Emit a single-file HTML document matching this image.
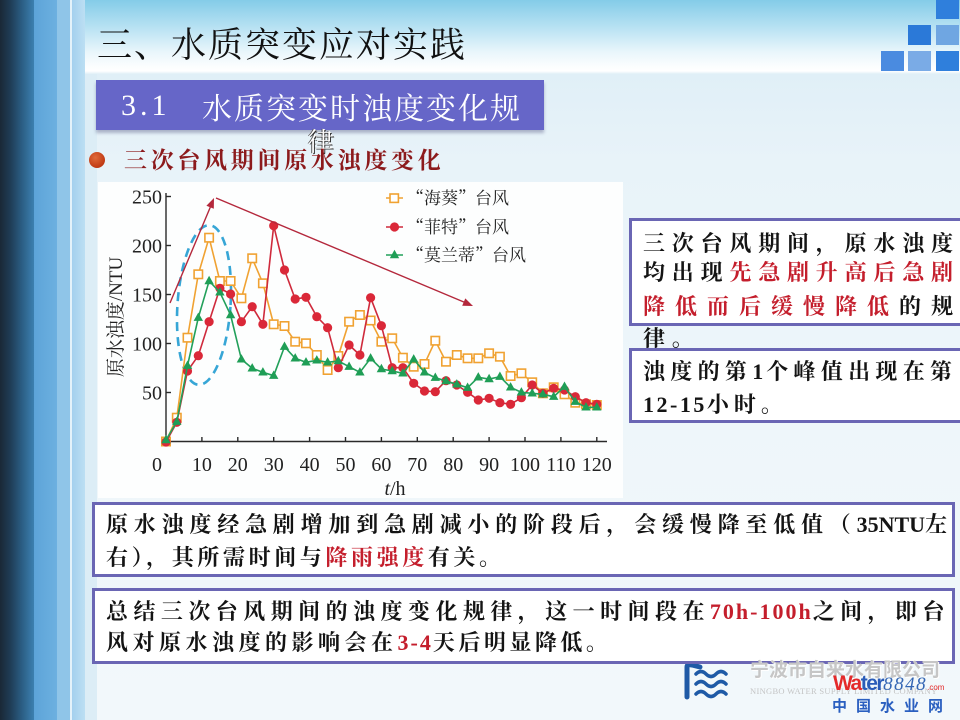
<!DOCTYPE html>
<html><head><meta charset="utf-8"><style>
html,body{margin:0;padding:0}
body{width:960px;height:720px;position:relative;overflow:hidden;background:#eef6fa;}
.a{position:absolute}
.t{position:absolute;white-space:nowrap;font-family:"Liberation Serif","Noto Serif CJK SC",serif;font-weight:bold;font-size:22px;line-height:22px;color:#141414;}
.r{color:#c41e2c}
.box{position:absolute;border:3px solid #6a66b4;background:#fff;box-sizing:border-box}
.sq{position:absolute;width:23px;height:20px}
</style></head><body>
<!-- backgrounds -->
<div class="a" style="left:0;top:0;width:960px;height:720px;background:linear-gradient(to bottom,#84cce8 0px,#b9e2f3 28px,#e9f6fb 52px,#fbfdfe 66px,#ffffff 71px,#e0eff7 74px,#e8f3f9 160px,#eef6fa 400px,#f2f8fb 720px)"></div>
<!-- left strip -->
<div class="a" style="left:0;top:0;width:34px;height:720px;background:linear-gradient(to right,#1a2836 0%,#1f3c55 30%,#2b5e84 65%,#3c80b0 100%)"></div>
<div class="a" style="left:34px;top:0;width:23px;height:720px;background:linear-gradient(to right,#5da4d8,#6cb0e0)"></div>
<div class="a" style="left:57px;top:0;width:13px;height:720px;background:#8fc5e8"></div>
<div class="a" style="left:70px;top:0;width:2px;height:720px;background:#e4f2fa"></div>
<div class="a" style="left:72px;top:0;width:13px;height:720px;background:linear-gradient(to right,#a4d0ee,#bcdff3)"></div>
<div class="a" style="left:85px;top:74px;width:12px;height:646px;background:#dcedf6"></div>
<!-- top right squares -->
<div class="sq" style="left:936px;top:0;height:19px;background:#2f7fdc"></div>
<div class="sq" style="left:908px;top:25px;background:#2b79d8"></div>
<div class="sq" style="left:936px;top:25px;background:#6fa6e2"></div>
<div class="sq" style="left:881px;top:51px;background:#4a8be0"></div>
<div class="sq" style="left:908px;top:51px;background:#7aabe6"></div>
<div class="sq" style="left:936px;top:51px;background:#2f7fdc"></div>

<!-- title -->
<div class="a" style="left:97px;top:25px;font-family:'Noto Serif CJK SC','Liberation Serif',serif;font-size:35px;line-height:36px;letter-spacing:2px;color:#111;white-space:nowrap">三、水质突变应对实践</div>

<!-- section box -->
<div class="a" style="left:96px;top:80px;width:448px;height:50px;background:#6666c8;box-shadow:0 3px 3px rgba(60,60,110,0.35)"></div>
<div class="a" style="left:121px;top:91px;font-family:'Liberation Serif',serif;font-size:30px;line-height:30px;letter-spacing:4px;color:#fff;white-space:nowrap">3.1</div>
<div class="a" style="left:202px;top:91px;font-family:'Noto Serif CJK SC',serif;font-size:30px;line-height:30px;letter-spacing:2px;color:#fff;white-space:nowrap">水质突变时浊度变化规</div>
<div class="a" style="left:308px;top:128px;font-family:'Noto Serif CJK SC',serif;font-size:26px;line-height:26px;color:#fff;text-shadow:1px 1px 0 #333,-1px 0 0 #555;white-space:nowrap">律</div>

<!-- bullet -->
<div class="a" style="left:89px;top:152px;width:16px;height:16px;border-radius:50%;background:radial-gradient(circle at 40% 35%,#e06a3a,#c03a14 70%)"></div>
<div class="t" style="left:124px;top:149px;font-size:23px;line-height:23px;letter-spacing:3.7px;color:#8c1a1c">三次台风期间原水浊度变化</div>

<!-- chart -->
<svg class="a" style="left:0;top:0" width="960" height="720" viewBox="0 0 960 720" xmlns="http://www.w3.org/2000/svg">
<defs>
<marker id="mSq" markerWidth="12" markerHeight="12" refX="6" refY="6" markerUnits="userSpaceOnUse" overflow="visible"><rect x="1.8" y="1.8" width="8.4" height="8.4" fill="#fff" stroke="#f0a232" stroke-width="1.6"/></marker>
<marker id="mCi" markerWidth="12" markerHeight="12" refX="6" refY="6" markerUnits="userSpaceOnUse" overflow="visible"><circle cx="6" cy="6" r="4.6" fill="#da2838"/></marker>
<marker id="mTr" markerWidth="12" markerHeight="12" refX="6" refY="6" markerUnits="userSpaceOnUse" overflow="visible"><polygon points="6,0.8 1.3,9.2 10.7,9.2" fill="#1f9e56"/></marker>
</defs>
<rect x="98" y="182" width="525" height="316" fill="#fdfefe"/>
<!-- axes -->
<g stroke="#2a2a2a" stroke-width="1.4" fill="none">
<line x1="166" y1="193" x2="166" y2="442"/>
<line x1="165.3" y1="441.5" x2="607" y2="441.5"/>
<line x1="166" y1="196.5" x2="171" y2="196.5"/>
<line x1="166" y1="245.5" x2="171" y2="245.5"/>
<line x1="166" y1="294.5" x2="171" y2="294.5"/>
<line x1="166" y1="343.5" x2="171" y2="343.5"/>
<line x1="166" y1="392.5" x2="171" y2="392.5"/>
<line x1="201.9" y1="441.5" x2="201.9" y2="437"/>
<line x1="237.8" y1="441.5" x2="237.8" y2="437"/>
<line x1="273.7" y1="441.5" x2="273.7" y2="437"/>
<line x1="309.6" y1="441.5" x2="309.6" y2="437"/>
<line x1="345.5" y1="441.5" x2="345.5" y2="437"/>
<line x1="381.4" y1="441.5" x2="381.4" y2="437"/>
<line x1="417.3" y1="441.5" x2="417.3" y2="437"/>
<line x1="453.2" y1="441.5" x2="453.2" y2="437"/>
<line x1="489.1" y1="441.5" x2="489.1" y2="437"/>
<line x1="525" y1="441.5" x2="525" y2="437"/>
<line x1="560.9" y1="441.5" x2="560.9" y2="437"/>
<line x1="596.8" y1="441.5" x2="596.8" y2="437"/>
</g>
<g font-family="Liberation Serif, serif" font-size="20" fill="#222" text-anchor="end">
<text x="162" y="203.5">250</text>
<text x="162" y="252.5">200</text>
<text x="162" y="301.5">150</text>
<text x="162" y="350.5">100</text>
<text x="162" y="399.5">50</text>
</g>
<g font-family="Liberation Serif, serif" font-size="20" fill="#222" text-anchor="middle">
<text x="157" y="471">0</text>
<text x="201.9" y="471">10</text>
<text x="237.8" y="471">20</text>
<text x="273.7" y="471">30</text>
<text x="309.6" y="471">40</text>
<text x="345.5" y="471">50</text>
<text x="381.4" y="471">60</text>
<text x="417.3" y="471">70</text>
<text x="453.2" y="471">80</text>
<text x="489.1" y="471">90</text>
<text x="525" y="471">100</text>
<text x="560.9" y="471">110</text>
<text x="596.8" y="471">120</text>
<text x="395" y="495"><tspan font-style="italic">t</tspan>/h</text>
</g>
<text transform="translate(122,317) rotate(-90)" text-anchor="middle" font-family="Liberation Serif, Noto Serif CJK SC, serif" font-size="19" fill="#222">原水浊度/NTU</text>

<!-- ellipse -->
<ellipse cx="204" cy="305" rx="26.5" ry="80" transform="rotate(4 204 305)" fill="none" stroke="#37a6d6" stroke-width="2.6" stroke-dasharray="9 6"/>

<!-- series lines -->
<polyline fill="none" stroke="#f0a232" stroke-width="1.6" marker-start="url(#mSq)" marker-mid="url(#mSq)" marker-end="url(#mSq)" points="166,441.5 176.8,417.7 187.5,337.7 198.3,274.3 209.1,237.7 219.9,281 230.6,281 241.4,298.3 252.2,258.3 262.9,283.3 273.7,324.3 284.5,326 295.2,341.7 306,343.3 316.8,355 327.6,370 338.3,356 349.1,321.7 359.9,315 370.6,320.5 381.4,341.7 392.2,338.3 402.9,357.7 413.7,366.7 424.5,364 435.3,340.7 446,361.7 456.8,355 467.6,358.3 478.3,358.3 489.1,353.3 499.9,356.7 510.6,376 521.4,373.3 532.2,382.3 542.9,393.3 553.7,387.3 564.5,394.3 575.3,402.7 586,404.3 596.8,405"/>
<polyline fill="none" stroke="#cf2a3c" stroke-width="1.6" marker-start="url(#mCi)" marker-mid="url(#mCi)" marker-end="url(#mCi)" points="166,442 176.8,422.3 187.5,371 198.3,355.7 209.1,321.7 219.9,288.3 230.6,294 241.4,321.7 252.2,306.7 262.9,324.3 273.7,225.7 284.5,270 295.2,299 306,297.3 316.8,316.7 327.6,327.7 338.3,367.7 349.1,345 359.9,355 370.6,297.7 381.4,325.7 392.2,367.7 402.9,367.7 413.7,383.3 424.5,391 435.3,391.7 446,380.7 456.8,385 467.6,392.3 478.3,400 489.1,398.3 499.9,402.7 510.6,404.3 521.4,397.7 532.2,385 542.9,393.3 553.7,388.3 564.5,390 575.3,396.7 586,402.7 596.8,404.3"/>
<polyline fill="none" stroke="#22a05a" stroke-width="1.6" marker-start="url(#mTr)" marker-mid="url(#mTr)" marker-end="url(#mTr)" points="166,440 176.8,421.7 187.5,365.7 198.3,317.7 209.1,281 219.9,292.3 230.6,315 241.4,359.3 252.2,368.3 262.9,372.3 273.7,375.7 284.5,346.7 295.2,358.3 306,362.3 316.8,360.3 327.6,362.3 338.3,361 349.1,366.7 359.9,372.3 370.6,358.3 381.4,369 392.2,371 402.9,373.3 413.7,359.3 424.5,372.3 435.3,377.7 446,381 456.8,384.3 467.6,387.7 478.3,377.3 489.1,379 499.9,376.7 510.6,387.3 521.4,392.3 532.2,393.3 542.9,394.3 553.7,396.7 564.5,386.7 575.3,401.7 586,407.3 596.8,407.3"/>

<!-- arrows -->
<g stroke="#b4283c" stroke-width="1.4" fill="#b4283c">
<line x1="170" y1="303" x2="211" y2="205.5"/>
<polygon stroke="none" points="214,198 213.8,208.8 206.4,205.7"/>
<line x1="216" y1="198" x2="465" y2="302.5"/>
<polygon stroke="none" points="473,306 462.2,305.8 465.3,298.4"/>
</g>

<!-- legend -->
<g>
<line x1="386" y1="198" x2="403" y2="198" stroke="#f0a232" stroke-width="1.6"/>
<rect x="390" y="194" width="8.4" height="8.4" fill="#fff" stroke="#f0a232" stroke-width="1.6"/>
<line x1="386" y1="227" x2="403" y2="227" stroke="#cf2a3c" stroke-width="1.6"/>
<circle cx="394.5" cy="227" r="4.6" fill="#da2838"/>
<line x1="386" y1="255" x2="403" y2="255" stroke="#22a05a" stroke-width="1.6"/>
<polygon points="394.5,249.8 389.8,258.2 399.2,258.2" fill="#1f9e56"/>
<g font-family="Noto Serif CJK SC, serif" font-size="17" fill="#222">
<text x="407" y="204">“海葵”台风</text>
<text x="407" y="233">“菲特”台风</text>
<text x="407" y="261">“莫兰蒂”台风</text>
</g>
</g>

<!-- logo -->
<g fill="none" stroke="#1f5aa6" stroke-linecap="round">
<path d="M687 697 L687 667 Q687 664 692 665 L700 667" stroke-width="5"/>
<path d="M696 674 q5 -5 10 0 t10 0 t10 0" stroke-width="3.5"/>
<path d="M696 684 q5 -5 10 0 t10 0 t10 0" stroke-width="3.5"/>
<path d="M696 694 q5 -5 10 0 t10 0 t10 0" stroke-width="3.5"/>
</g>
</svg>

<!-- right boxes -->
<div class="box" style="left:629px;top:218px;width:340px;height:108px"></div>
<div class="t" style="left:643px;top:233px;letter-spacing:6.8px">三次台风期间，原水浊度</div>
<div class="t" style="left:643px;top:262px;letter-spacing:6.8px">均出现<span class="r">先急剧升高后急剧</span></div>
<div class="t" style="left:643px;top:296px;letter-spacing:10px"><span class="r">降低而后缓慢降低</span>的规</div>
<div class="t" style="left:643px;top:328px;letter-spacing:6.8px">律。</div>

<div class="box" style="left:629px;top:348px;width:340px;height:75px"></div>
<div class="t" style="left:643px;top:361px;letter-spacing:5.3px">浊度的第<span style="letter-spacing:3px">1</span>个峰值出现在第</div>
<div class="t" style="left:643px;top:394px;letter-spacing:5px"><span style="letter-spacing:2.5px">12-15</span>小时。</div>

<!-- bottom boxes -->
<div class="box" style="left:92px;top:502px;width:863px;height:75px"></div>
<div class="t" style="left:106px;top:514px;letter-spacing:5.8px">原水浊度经急剧增加到急剧减小的阶段后，会缓慢降至低值（<span style="letter-spacing:0">35NTU</span>左</div>
<div class="t" style="left:106px;top:547px;letter-spacing:3.6px">右），其所需时间与<span class="r">降雨强度</span>有关。</div>

<div class="box" style="left:92px;top:588px;width:863px;height:76px"></div>
<div class="t" style="left:106px;top:601px;letter-spacing:5.45px">总结三次台风期间的浊度变化规律，这一时间段在<span class="r" style="letter-spacing:2px">70h-100h</span>之间，即台</div>
<div class="t" style="left:106px;top:632px;letter-spacing:4.5px">风对原水浊度的影响会在<span class="r" style="letter-spacing:2px">3-4</span><span style="letter-spacing:3.5px">天后明显降低。</span></div>

<!-- logo texts -->
<div class="a" style="left:750px;top:661px;font-family:'Liberation Sans','Noto Sans CJK SC',sans-serif;font-weight:bold;font-size:19px;line-height:20px;color:#c6c6c6;white-space:nowrap;text-shadow:1px 1px 0 #fff">宁波市自来水有限公司</div>
<div class="a" style="left:750px;top:686px;font-family:'Liberation Serif',serif;font-size:8.5px;line-height:10px;color:#c4c4c4;white-space:nowrap;letter-spacing:0.3px">NINGBO WATER SUPPLY LIMITED COMPANY</div>
<div class="a" style="left:833px;top:673px;font-family:'Liberation Sans',sans-serif;font-weight:bold;font-size:21px;line-height:22px;letter-spacing:-1.5px;white-space:nowrap"><span style="color:#e42a2a">Wa</span><span style="color:#2a5cb8">ter</span><span style="font-family:'Liberation Serif',serif;font-style:italic;font-weight:normal;color:#3466b4;font-size:19px;letter-spacing:1.5px">8848</span><span style="color:#e42a2a;font-size:8px;font-weight:normal;letter-spacing:0">.com</span></div>
<div class="a" style="left:832px;top:699px;font-family:'Liberation Sans','Noto Sans CJK SC',sans-serif;font-weight:bold;font-size:15px;line-height:16px;letter-spacing:9px;color:#2a5fc0;white-space:nowrap">中国水业网</div>
</body></html>
